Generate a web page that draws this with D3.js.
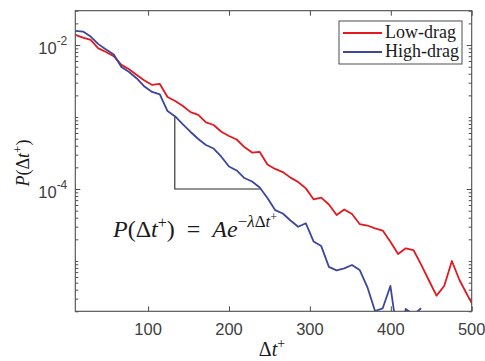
<!DOCTYPE html>
<html lang="en">
<head>
<meta charset="utf-8">
<title>P(dt+)</title>
<script src="https://d3js.org/d3.v7.min.js"></script>
<style>
  body { margin: 0; background: #fff; }
  .tick-label { font-family: "Liberation Sans", Arial, sans-serif; font-size: 16.5px; fill: #404040; }
  .tex { font-family: "Liberation Serif", "Times New Roman", serif; fill: #1a1a1a; }
</style>
</head>
<body>
<div id="chart"></div>
<script>
// time between events (x) and the two measured pdfs
var dt = [10, 19.5, 29, 38.5, 48, 57.5, 67, 76.5, 86, 95.5, 105, 114.5, 124, 133.5, 143, 152.5,
  162, 171.5, 181, 190.5, 200, 209.5, 219, 228.5, 238, 247.5, 257, 266.5, 276, 285.5, 295, 304.5,
  314, 323.5, 333, 342.5, 352, 361.5, 371, 380.5, 390, 399.5, 409, 418.5, 428, 437.5, 447, 456.5,
  466, 475.5, 485, 494.5, 504];
var lowDrag = [1.38e-2, 1.27e-2, 1.18e-2, 9.0e-3, 8.0e-3, 7.0e-3, 5.3e-3, 4.6e-3, 3.84e-3, 3.22e-3,
  2.79e-3, 2.88e-3, 1.90e-3, 1.67e-3, 1.42e-3, 1.17e-3, 1.07e-3, 8.4e-4, 7.75e-4, 6.25e-4, 5.45e-4,
  4.87e-4, 3.83e-4, 3.21e-4, 3.27e-4, 2.19e-4, 1.90e-4, 1.72e-4, 1.44e-4, 1.25e-4, 1.02e-4, 7.2e-5,
  7.6e-5, 6.1e-5, 4.35e-5, 5.2e-5, 4.5e-5, 3.26e-5, 3.11e-5, 2.84e-5, 2.65e-5, 1.85e-5, 1.25e-5,
  1.50e-5, 1.42e-5, 8.9e-6, 5.4e-6, 3.3e-6, 4.5e-6, 1.0e-5, 5.4e-6, 3.4e-6, 2.15e-6];
var highDrag = [1.57e-2, 1.54e-2, 1.31e-2, 1.03e-2, 8.7e-3, 7.4e-3, 4.95e-3, 4.22e-3, 3.43e-3, 2.65e-3,
  2.23e-3, 2.06e-3, 1.21e-3, 1.02e-3, 7.9e-4, 6.2e-4, 4.95e-4, 4.09e-4, 3.65e-4, 2.81e-4, 2.05e-4,
  1.81e-4, 1.42e-4, 1.27e-4, 1.05e-4, 7.5e-5, 5.1e-5, 4.57e-5, 3.65e-5, 2.99e-5, 3.34e-5, 1.87e-5,
  1.61e-5, 8.3e-6, 7.4e-6, 7.9e-6, 8.8e-6, 7.5e-6, 4.35e-6, 2.02e-6, 2.2e-6, 4.5e-6, 8.0e-7,
  2.15e-6, 1.8e-6, 2.2e-6, null, null, null, null, null, null, null];
var seriesNames = ["Low-drag", "High-drag"];
var seriesColors = ["#e3191f", "#3b479d"];

// slope triangle
var slopeX = [133, 133, 238];
var slopeY = [1e-3, 1e-4, 1e-4];

var xTicks = [100, 200, 300, 400, 500];
var yLabelled = [1e-2, 1e-4];
var yLabelExp = ["-2", "-4"];

var w = 485, h = 361;
var mLeft = 75.3, mRight = 471.7, mTop = 10.7, mBottom = 311.3;

var x = d3.scaleLinear().domain([10, 500]).range([mLeft, mRight]);
var y = d3.scaleLog().domain([2e-6, 0.03]).range([mBottom, mTop]);

var svg = d3.select("#chart").append("svg").attr("width", w).attr("height", h);

svg.append("clipPath").attr("id", "plotclip").append("rect")
  .attr("x", mLeft).attr("y", mTop).attr("width", mRight - mLeft).attr("height", mBottom - mTop);

var plot = svg.append("g").attr("clip-path", "url(#plotclip)");

var line = d3.line()
  .defined(function(d) { return d[1] != null && d[1] > 0; })
  .x(function(d) { return x(d[0]); })
  .y(function(d) { return y(d[1]); });

[lowDrag, highDrag].forEach(function(s, i) {
  var pts = dt.map(function(t, j) { return [t, s[j]]; });
  plot.append("path").datum(pts)
    .attr("fill", "none")
    .attr("stroke", seriesColors[i])
    .attr("stroke-width", 1.8)
    .attr("stroke-linejoin", "round")
    .attr("d", line);
});

// triangle
svg.append("path")
  .datum(slopeX.map(function(v, i) { return [v, slopeY[i]]; }))
  .attr("fill", "none").attr("stroke", "#262626").attr("stroke-width", 1.1)
  .attr("d", d3.line().x(function(d) { return x(d[0]); }).y(function(d) { return y(d[1]); }));

// axes: bottom/top with inward ticks, left/right log ticks
var ac = "#4d4d4d";
svg.append("g").attr("transform", "translate(0," + mBottom + ")")
  .call(d3.axisBottom(x).tickValues(xTicks).tickSize(-5).tickFormat(""));
svg.append("g").attr("transform", "translate(0," + mTop + ")")
  .call(d3.axisTop(x).tickValues(xTicks).tickSize(-5).tickFormat(""));

var minor = y.ticks().filter(function(v) { return yLabelled.indexOf(v) < 0; });
svg.append("g").attr("transform", "translate(" + mLeft + ",0)")
  .call(d3.axisLeft(y).tickValues(minor).tickSize(-3).tickFormat(""));
svg.append("g").attr("transform", "translate(" + mLeft + ",0)")
  .call(d3.axisLeft(y).tickValues(yLabelled).tickSize(-5).tickFormat(""));
svg.append("g").attr("transform", "translate(" + mRight + ",0)")
  .call(d3.axisRight(y).tickValues(minor).tickSize(-3).tickFormat(""));
svg.append("g").attr("transform", "translate(" + mRight + ",0)")
  .call(d3.axisRight(y).tickValues(yLabelled).tickSize(-5).tickFormat(""));
svg.selectAll(".domain").remove();
svg.selectAll(".tick line").attr("stroke", ac);

svg.append("rect").attr("x", mLeft).attr("y", mTop).attr("width", mRight - mLeft).attr("height", mBottom - mTop)
  .attr("fill", "none").attr("stroke", ac).attr("stroke-width", 1.1);

// tick labels
svg.selectAll(".xlab").data(xTicks).enter().append("text")
  .attr("class", "tick-label")
  .attr("x", function(d) { return x(d); })
  .attr("y", mBottom + 24)
  .attr("text-anchor", "middle")
  .text(function(d) { return d; });

yLabelled.forEach(function(v, i) {
  var t = svg.append("text").attr("class", "tick-label")
    .attr("x", mLeft - 8).attr("y", y(v) + 9).attr("text-anchor", "end");
  t.append("tspan").text("10");
  t.append("tspan").attr("dy", -9).attr("font-size", 12).text(yLabelExp[i]);
});

// x label
var xl = svg.append("text").attr("class", "tex").attr("x", 272).attr("y", 356)
  .attr("text-anchor", "middle").attr("font-size", 20);
xl.append("tspan").text("Δ");
xl.append("tspan").attr("font-style", "italic").text("t");
xl.append("tspan").attr("dy", -8).attr("font-size", 14).text("+");

// y label
var yl = svg.append("text").attr("class", "tex")
  .attr("transform", "translate(29,163) rotate(-90)")
  .attr("text-anchor", "middle").attr("font-size", 18);
yl.append("tspan").attr("font-style", "italic").text("P");
yl.append("tspan").text("(Δ");
yl.append("tspan").attr("font-style", "italic").text("t");
yl.append("tspan").attr("dy", -7).attr("font-size", 13).text("+");
yl.append("tspan").attr("dy", 7).text(")");

// equation
var eq = svg.append("text").attr("class", "tex").attr("x", 113).attr("y", 237).attr("font-size", 24);
eq.append("tspan").attr("font-style", "italic").text("P");
eq.append("tspan").text("(Δ");
eq.append("tspan").attr("font-style", "italic").text("t");
eq.append("tspan").attr("dy", -9).attr("font-size", 16).text("+");
eq.append("tspan").attr("dy", 9).text(")\u2002=\u2002");
eq.append("tspan").attr("font-style", "italic").text("Ae");
eq.append("tspan").attr("dy", -10).attr("font-size", 17).text("−");
eq.append("tspan").attr("font-style", "italic").attr("font-size", 17).text("λ");
eq.append("tspan").attr("font-size", 17).text("Δ");
eq.append("tspan").attr("font-style", "italic").attr("font-size", 17).text("t");
eq.append("tspan").attr("dy", -6).attr("font-size", 12).text("+");

// legend
var lg = svg.append("g");
lg.append("rect").attr("x", 339).attr("y", 21).attr("width", 123).attr("height", 43)
  .attr("fill", "#fff").attr("stroke", "#4d4d4d").attr("stroke-width", 1);
seriesNames.forEach(function(n, i) {
  var yy = 33 + i * 19;
  lg.append("line").attr("x1", 343).attr("x2", 382).attr("y1", yy).attr("y2", yy)
    .attr("stroke", seriesColors[i]).attr("stroke-width", 1.8);
  lg.append("text").attr("class", "tex").attr("x", 385).attr("y", yy + 5)
    .attr("font-size", 18).text(n);
});
</script>
</body>
</html>
